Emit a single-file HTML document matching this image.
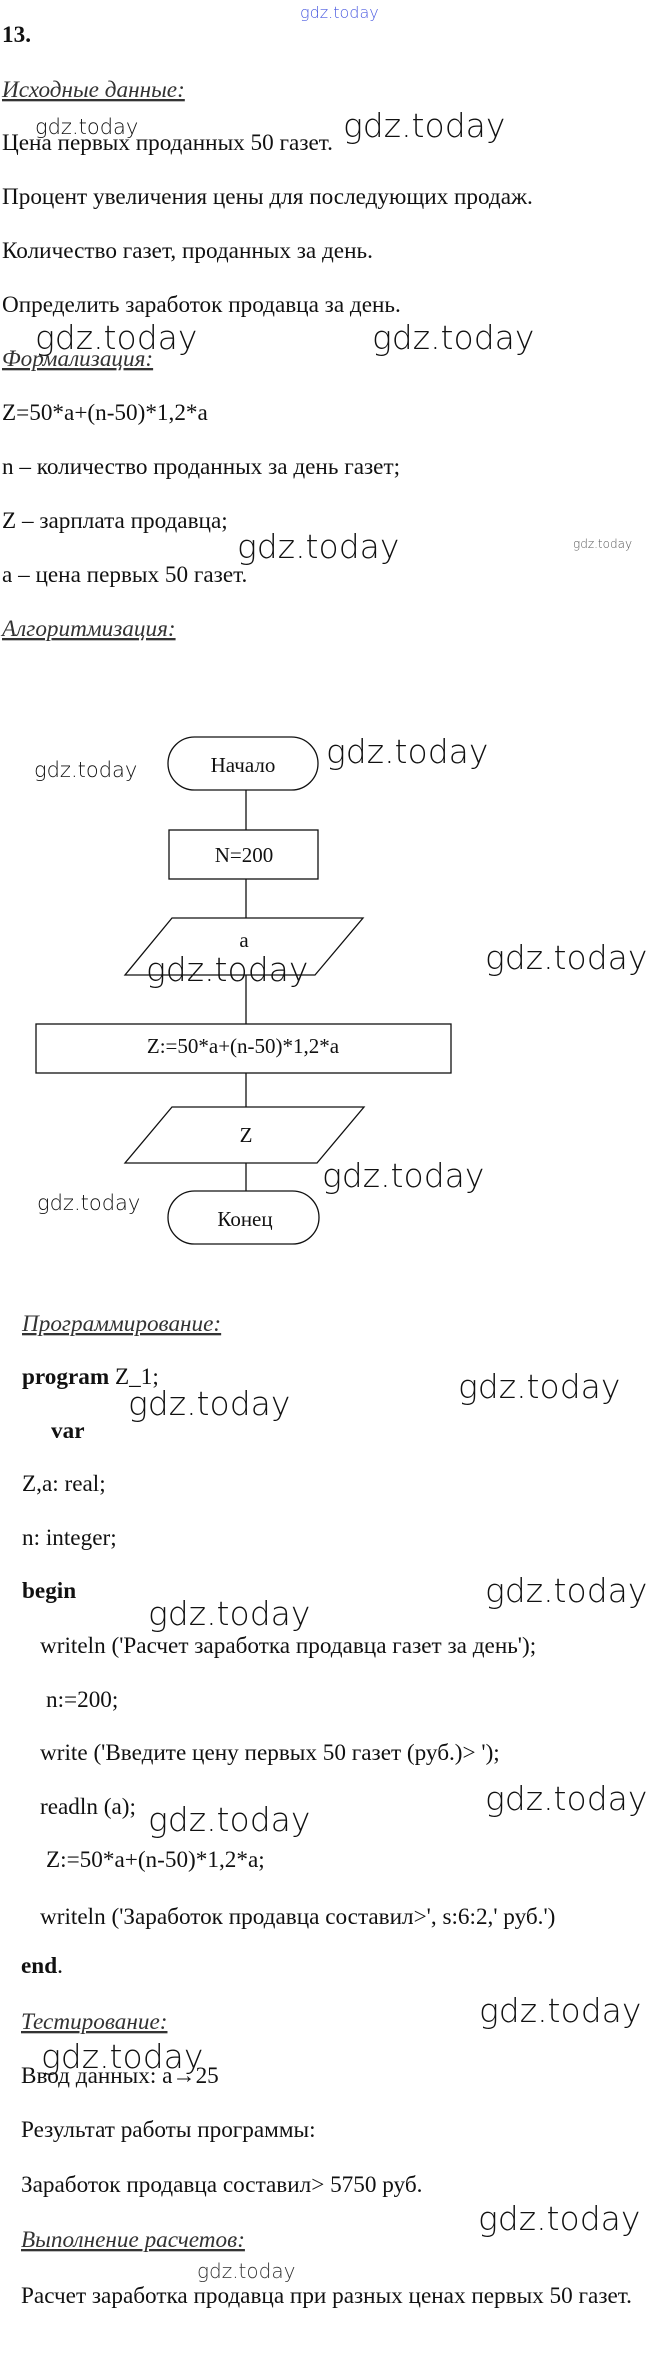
<!DOCTYPE html>
<html><head><meta charset="utf-8"><style>
html,body{margin:0;padding:0;background:#fff;}
svg{display:block;}
.t{font-family:"Liberation Serif","Noto Serif CJK SC",serif;font-size:23.2px;fill:#111;}
.h{font-family:"Liberation Serif",serif;font-size:23.2px;font-style:italic;fill:#333;text-decoration:underline;}
.b{font-weight:bold;}
.w{font-family:"DejaVu Sans","Liberation Sans",sans-serif;font-weight:200;fill:#111;}
.fc{font-family:"Liberation Serif",serif;font-size:21px;fill:#111;}
</style></head><body>
<svg width="672" height="2370" viewBox="0 0 672 2370" xmlns="http://www.w3.org/2000/svg">
<text x="300" y="18" class="w" font-size="16" style="fill:#4a5ae0">gdz.today</text>
<text x="2" y="42" class="t b" font-size="24">13.</text>
<text x="2" y="97" class="h">Исходные данные:</text>
<text x="2" y="150" class="t">Цена первых проданных 50 газет.</text>
<text x="2" y="204" class="t">Процент увеличения цены для последующих продаж.</text>
<text x="2" y="258" class="t">Количество газет, проданных за день.</text>
<text x="2" y="312" class="t">Определить заработок продавца за день.</text>
<text x="2" y="366" class="h">Формализация:</text>
<text x="2" y="420" class="t">Z=50*a+(n-50)*1,2*a</text>
<text x="2" y="474" class="t">n – количество проданных за день газет;</text>
<text x="2" y="528" class="t">Z – зарплата продавца;</text>
<text x="2" y="582" class="t">a – цена первых 50 газет.</text>
<text x="2" y="636" class="h">Алгоритмизация:</text>

<text x="35" y="134" class="w" font-size="21">gdz.today</text>
<text x="343" y="137" class="w" font-size="33">gdz.today</text>
<text x="35" y="349" class="w" font-size="33">gdz.today</text>
<text x="372" y="349" class="w" font-size="33">gdz.today</text>
<text x="237" y="558" class="w" font-size="33">gdz.today</text>
<text x="573" y="548" class="w" font-size="12" style="fill:#555">gdz.today</text>

<g fill="none" stroke="#111" stroke-width="1.3">
<rect x="168" y="737" width="150" height="53" rx="26.5" ry="26.5"/>
<line x1="246" y1="790" x2="246" y2="830"/>
<rect x="169" y="830" width="149" height="49"/>
<line x1="246" y1="879" x2="246" y2="918"/>
<polygon points="172,918 363,918 315,975 125,975"/>
<line x1="246" y1="975" x2="246" y2="1024"/>
<rect x="36" y="1024" width="415" height="49"/>
<line x1="246" y1="1073" x2="246" y2="1107"/>
<polygon points="172,1107 364,1107 317,1163 125,1163"/>
<line x1="246" y1="1163" x2="246" y2="1191"/>
<rect x="168" y="1191" width="151" height="53" rx="26.5" ry="26.5"/>
</g>
<text x="243" y="772" class="fc" text-anchor="middle">Начало</text>
<text x="244" y="862" class="fc" text-anchor="middle">N=200</text>
<text x="244" y="947" class="fc" text-anchor="middle">a</text>
<text x="243" y="1053" class="fc" text-anchor="middle">Z:=50*a+(n-50)*1,2*a</text>
<text x="246" y="1142" class="fc" text-anchor="middle">Z</text>
<text x="245" y="1226" class="fc" text-anchor="middle">Конец</text>

<text x="326" y="763" class="w" font-size="33">gdz.today</text>
<text x="34" y="777" class="w" font-size="21">gdz.today</text>
<text x="146" y="981" class="w" font-size="33">gdz.today</text>
<text x="485" y="969" class="w" font-size="33">gdz.today</text>
<text x="322" y="1187" class="w" font-size="33">gdz.today</text>
<text x="37" y="1210" class="w" font-size="21">gdz.today</text>

<text x="22" y="1331" class="h">Программирование:</text>
<text x="22" y="1384" class="t"><tspan class="b">program</tspan> Z_1;</text>
<text x="51" y="1438" class="t b">var</text>
<text x="22" y="1491" class="t">Z,a: real;</text>
<text x="22" y="1545" class="t">n: integer;</text>
<text x="22" y="1598" class="t b">begin</text>
<text x="40" y="1653" class="t">writeln ('Расчет заработка продавца газет за день');</text>
<text x="46" y="1707" class="t">n:=200;</text>
<text x="40" y="1760" class="t">write ('Введите цену первых 50 газет (руб.)&gt; ');</text>
<text x="40" y="1814" class="t">readln (a);</text>
<text x="46" y="1867" class="t">Z:=50*a+(n-50)*1,2*a;</text>
<text x="40" y="1924" class="t">writeln ('Заработок продавца составил&gt;', s:6:2,' руб.')</text>
<text x="21" y="1973" class="t"><tspan class="b">end</tspan>.</text>

<text x="458" y="1398" class="w" font-size="33">gdz.today</text>
<text x="128" y="1415" class="w" font-size="33">gdz.today</text>
<text x="485" y="1602" class="w" font-size="33">gdz.today</text>
<text x="148" y="1625" class="w" font-size="33">gdz.today</text>
<text x="485" y="1810" class="w" font-size="33">gdz.today</text>
<text x="148" y="1831" class="w" font-size="33">gdz.today</text>

<text x="21" y="2029" class="h">Тестирование:</text>
<text x="21" y="2083" class="t">Ввод данных: a→25</text>
<text x="21" y="2137" class="t">Результат работы программы:</text>
<text x="21" y="2192" class="t">Заработок продавца составил&gt;  5750 руб.</text>
<text x="21" y="2247" class="h">Выполнение расчетов:</text>
<text x="21" y="2303" class="t">Расчет заработка продавца при разных ценах первых 50 газет.</text>

<text x="479" y="2022" class="w" font-size="33">gdz.today</text>
<text x="41" y="2068" class="w" font-size="33">gdz.today</text>
<text x="478" y="2230" class="w" font-size="33">gdz.today</text>
<text x="197" y="2278" class="w" font-size="20" style="fill:#333">gdz.today</text>
</svg>
</body></html>
